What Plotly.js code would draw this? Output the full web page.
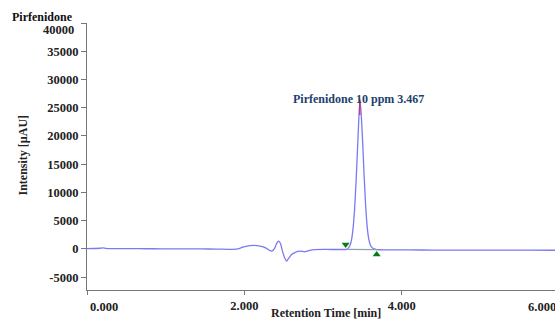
<!DOCTYPE html>
<html>
<head>
<meta charset="utf-8">
<script src="https://cdn.plot.ly/plotly-3.0.1.min.js"></script>
<style>html,body{margin:0;padding:0;background:#fff;}#chart{width:555px;height:320px;}</style>
</head>
<body>
<div id="chart"></div>
<script>
// Chromatogram trace (retention time in min, intensity in µAU)
var retentionTime = [0.00, 0.08, 0.16, 0.20, 0.24, 0.30, 0.45, 0.65, 0.85, 1.05, 1.25, 1.45, 1.65, 1.85, 1.92, 1.98, 2.05, 2.12, 2.20, 2.27, 2.32, 2.35, 2.38, 2.41, 2.435, 2.46, 2.48, 2.51, 2.537, 2.56, 2.60, 2.64, 2.68, 2.72, 2.76, 2.79, 2.83, 2.90, 3.00, 3.10, 3.20, 3.26,
  3.30, 3.32, 3.34, 3.36, 3.38, 3.40, 3.42, 3.44, 3.455, 3.467, 3.48, 3.50, 3.52, 3.54, 3.56, 3.58, 3.60, 3.62, 3.65, 3.68,
  3.75, 3.90, 4.10, 4.40, 4.70, 5.00, 5.30, 5.60, 5.95];
var intensity = [60, 80, 120, 200, 110, 70, 60, 40, 30, 20, 10, 0, -20, -80, 0, 300, 550, 620, 500, 200, -250, -380, 0, 1000, 1380, 900, -200, -1500, -2150, -1700, -1000, -650, -450, -380, -500, -420, -250, -120, -90, -100, -100, -100,
  -60, 150, 550, 1500, 3500, 7000, 12200, 18500, 23300, 26300, 24700, 19800, 13400, 7900, 4000, 1800, 750, 280, 0, -120,
  -150, -170, -180, -200, -200, -210, -220, -220, -230];

// Integration marks
var peakStartTime = [3.287], peakStartValue = [800];
var peakEndTime = [3.681], peakEndValue = [-975];
var baselineTime = [3.30, 3.68], baselineValue = [-90, -130];
var apexTime = [3.467, 3.467], apexValue = [26500, 23700];
var peakLabel = "Pirfenidone 10 ppm 3.467";
var peakLabelPos = [3.45, 26500];

// Axes
var xTickVals = [0, 2, 4];
var xTickText = ["", "2.000", "4.000"];
var yTickVals = [-5000, 0, 5000, 10000, 15000, 20000, 25000, 30000, 35000, 40000];
var yTickText = ["-5000", "0", "5000", "10000", "15000", "20000", "25000", "30000", "35000", ""];

var serif = "Liberation Serif, Times New Roman, serif";
var tickFont = {family: serif, size: 12.5, color: "#222", weight: "bold"};
var titleFont = {family: serif, size: 12, color: "#222", weight: "bold"};

var traces = [
  {x: retentionTime, y: intensity, type: "scatter", mode: "lines",
   line: {color: "#7a7af2", width: 1.3, shape: "spline", smoothing: 0.6}, hoverinfo: "skip"},
  {x: baselineTime, y: baselineValue, type: "scatter", mode: "lines",
   line: {color: "#8fa3aa", width: 1.2}, hoverinfo: "skip"},
  {x: apexTime, y: apexValue, type: "scatter", mode: "lines",
   line: {color: "#e0203a", width: 1.2}, hoverinfo: "skip"},
  {x: peakStartTime, y: peakStartValue, type: "scatter", mode: "markers",
   marker: {symbol: "triangle-down", color: "#0a7a12", size: 7}, hoverinfo: "skip"},
  {x: peakEndTime, y: peakEndValue, type: "scatter", mode: "markers",
   marker: {symbol: "triangle-up", color: "#0a7a12", size: 7}, hoverinfo: "skip"}
];

var layout = {
  width: 555, height: 320,
  margin: {l: 87, r: 0, t: 23, b: 30},
  paper_bgcolor: "#fff", plot_bgcolor: "#fff",
  showlegend: false,
  title: {text: "Pirfenidone", font: {family: serif, size: 12, color: "#111", weight: "bold"},
          xref: "container", x: 12/555, xanchor: "left", yref: "container", y: 1 - 16.5/320, yanchor: "middle"},
  xaxis: {range: [0, 5.947], showgrid: false, zeroline: false, showline: true, linecolor: "#777", linewidth: 1,
          ticks: "outside", ticklen: 4, tickcolor: "#777", tickvals: xTickVals, ticktext: xTickText, tickfont: tickFont},
  yaxis: {range: [-7270, 40000], showgrid: false, zeroline: false, showline: true, linecolor: "#777", linewidth: 1,
          ticks: "outside", ticklen: 5, tickcolor: "#777", tickvals: yTickVals, ticktext: yTickText, tickfont: tickFont},
  annotations: [
    {text: peakLabel, x: peakLabelPos[0], y: peakLabelPos[1], xref: "x", yref: "y", showarrow: false,
     xanchor: "center", yanchor: "middle", font: {family: serif, size: 12, color: "#213f6e", weight: "bold"}},
    {text: "0.000", xref: "paper", yref: "paper", x: (104-87)/468, y: (290-306.5)/267, showarrow: false,
     xanchor: "center", yanchor: "middle", font: tickFont},
    {text: "6.000", xref: "paper", yref: "paper", x: (541.5-87)/468, y: (290-306.5)/267, showarrow: false,
     xanchor: "center", yanchor: "middle", font: tickFont},
    {text: "40000", xref: "paper", yref: "paper", x: (76-87)/468, y: (290-30)/267, showarrow: false,
     xanchor: "right", yanchor: "middle", font: tickFont},
    {text: "Retention Time [min]", xref: "paper", yref: "paper", x: (326-87)/468, y: (290-312.5)/267, showarrow: false,
     xanchor: "center", yanchor: "middle", font: titleFont},
    {text: "Intensity [µAU]", xref: "paper", yref: "paper", x: (22.5-87)/468, y: (290-155)/267, showarrow: false,
     textangle: -90, xanchor: "center", yanchor: "middle", font: titleFont}
  ]
};

Plotly.newPlot("chart", traces, layout, {displayModeBar: false, staticPlot: true});
</script>
</body>
</html>
